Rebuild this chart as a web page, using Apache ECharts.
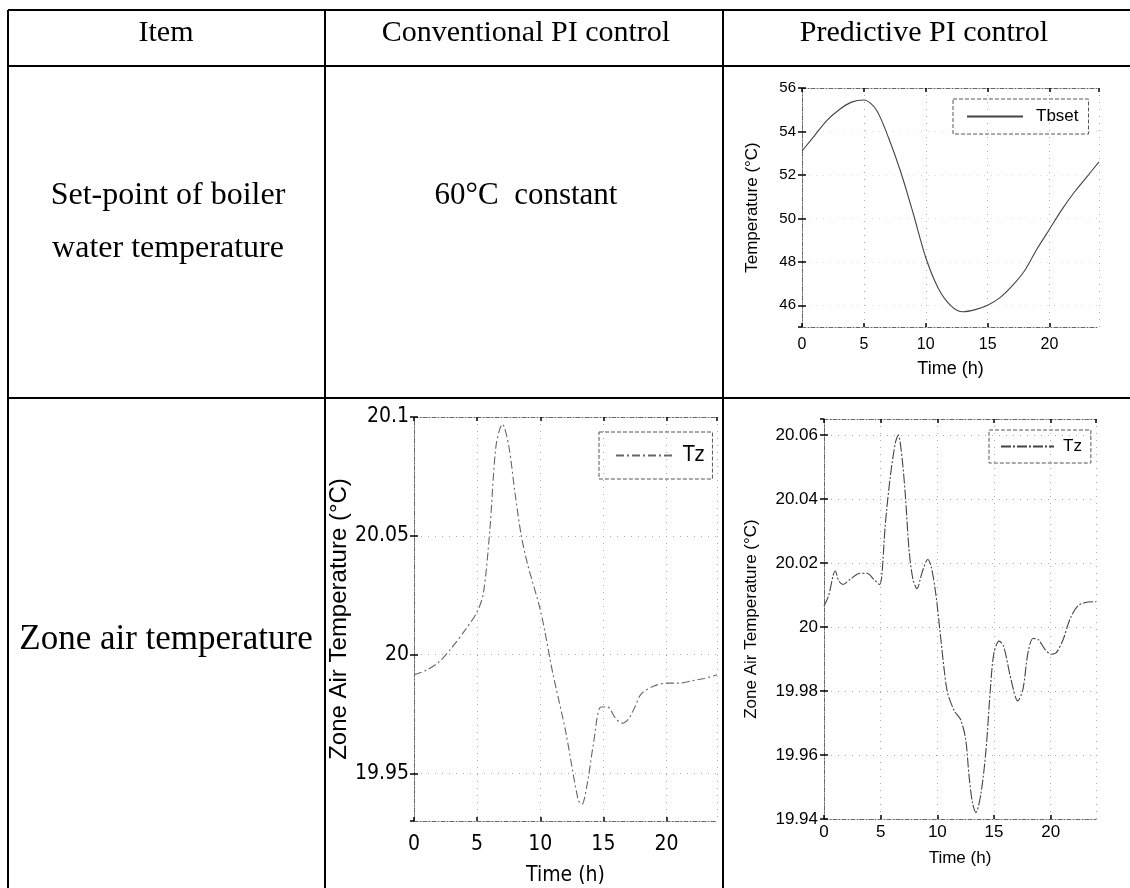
<!DOCTYPE html>
<html>
<head>
<meta charset="utf-8">
<title>Boiler set-point and zone air temperature</title>
<script src="https://cdn.jsdelivr.net/npm/echarts@6/dist/echarts.min.js"></script>
<style>
  html, body { margin: 0; padding: 0; background: #fff; }
  #chart { width: 1130px; height: 888px; }
</style>
</head>
<body>
<div id="chart"></div>
<script>
// ---- Table text ----
const headerLabels = ['Item', 'Conventional PI control', 'Predictive PI control'];
const rowOneLabels = ['Set-point of boiler', 'water temperature'];
const rowOneConventional = '60°C  constant';
const rowTwoLabel = 'Zone air temperature';

// ---- Predictive PI control: boiler water set-point Tbset (°C) over the day ----
const tbsetHours = [0, 1, 2, 3, 4, 5, 6, 7, 8, 9, 10, 11, 12, 13, 14, 15, 16, 17, 18, 19, 20, 21, 22, 23, 24];
const tbsetValues = [53.1, 53.8, 54.5, 55.0, 55.35, 55.45, 55.0, 53.7, 52.1, 50.2, 48.2, 46.8, 46.0, 45.7, 45.8,
  46.0, 46.35, 46.9, 47.6, 48.6, 49.5, 50.4, 51.2, 51.9, 52.6];

// ---- Conventional PI control: zone air temperature Tz (°C) ----
const convHours = [0, 1, 2, 3, 4, 5, 5.5, 6, 6.5, 7, 7.5, 8, 8.5, 9, 10, 10.5, 11, 12, 13, 13.3, 13.7, 14.2, 14.8,
  15.3, 16, 16.5, 17, 17.5, 18, 19, 20, 21, 22, 23, 24];
const convTz = [19.9915, 19.9935, 19.997, 20.003, 20.010, 20.018, 20.026, 20.052, 20.088, 20.097, 20.088, 20.068,
  20.050, 20.038, 20.019, 20.006, 19.992, 19.968, 19.939, 19.937, 19.945, 19.962, 19.978,
  19.978, 19.973, 19.9712, 19.973, 19.978, 19.9835, 19.9868, 19.988, 19.988, 19.989, 19.990, 19.9915];

// ---- Predictive PI control: zone air temperature Tz (°C) ----
const predHours = [0, 0.4, 0.8, 1.0, 1.3, 1.7, 2.3, 3.2, 3.8, 4.4, 4.9, 5.1, 5.4, 5.85, 6.3, 6.55, 6.9, 7.2, 7.5,
  7.85, 8.2, 8.65, 9.15, 9.45, 9.85, 10.25, 10.6, 10.9, 11.5, 12.05, 12.5, 12.8, 13.1, 13.4, 13.85, 14.3, 14.7,
  15.0, 15.45, 15.85, 16.5, 17.1, 17.55, 18.0, 18.45, 18.9, 19.5, 20.05, 20.5, 21.1, 21.7, 22.4, 23.3, 24];
const predTz = [20.0066, 20.0097, 20.0160, 20.0175, 20.0144, 20.0133, 20.0149, 20.0168, 20.0168, 20.0149, 20.0133,
  20.0160, 20.0316, 20.0470, 20.0576, 20.0600, 20.0524, 20.0400, 20.0243, 20.0149, 20.0120, 20.0170, 20.0211,
  20.0190, 20.0107, 19.9982, 19.9868, 19.9795, 19.9738, 19.9711, 19.9649, 19.9534, 19.9451, 19.9420, 19.9480,
  19.9618, 19.9816, 19.9920, 19.9956, 19.9940, 19.9836, 19.9769, 19.9805, 19.9920, 19.9964, 19.9961, 19.9930,
  19.9915, 19.9920, 19.9961, 20.0024, 20.0066, 20.0078, 20.0079];

const pairs = (xs, ys) => xs.map((x, i) => [x, ys[i]]);

const SANS = "'Liberation Sans', Arial, sans-serif";
const NARROW = "'DejaVu Sans Condensed', 'Liberation Sans', sans-serif";
const SERIF = "'Liberation Serif', 'Times New Roman', serif";

// Plot frame pieces shared by every small plot
const frameLine = { show: true, lineStyle: { color: '#666', width: 1, type: [4, 2, 1, 2] } };
const innerTick = { show: true, inside: true, length: 4, lineStyle: { color: '#000', width: 1.5 } };

function timeAxis(gridIndex, font, size, margin, nameGap, nameSize) {
  return {
    type: 'value', gridIndex, min: 0, max: 24, interval: 5,
    axisLine: frameLine, axisTick: innerTick,
    axisLabel: { fontFamily: font, fontSize: size, color: '#000', margin, showMaxLabel: false },
    splitLine: { show: true, lineStyle: { color: '#aaa', width: 1, type: [1, 6] } },
    name: 'Time (h)', nameLocation: 'middle', nameGap,
    nameTextStyle: { fontFamily: font, fontSize: nameSize, color: '#000' }
  };
}
function topAxis(gridIndex) {
  return {
    type: 'value', gridIndex, position: 'top', min: 0, max: 24, interval: 5,
    axisLine: frameLine, axisTick: innerTick, axisLabel: { show: false }, splitLine: { show: false }
  };
}
function tempAxis(gridIndex, cfg) {
  return Object.assign({
    type: 'value', gridIndex,
    axisLine: frameLine, axisTick: innerTick,
    axisLabel: { fontFamily: cfg.font, fontSize: cfg.size, color: '#000', margin: cfg.margin,
      showMinLabel: cfg.showMin !== false, showMaxLabel: cfg.showMax !== false },
    splitLine: { show: true, lineStyle: { color: cfg.gridColor || '#aaa', width: 1, type: [1, 6] } },
    name: cfg.name, nameLocation: 'middle', nameGap: cfg.nameGap,
    nameTextStyle: { fontFamily: cfg.nameFont || SANS, fontSize: cfg.nameSize, color: '#000' }
  }, cfg.scale);
}
function rightAxis(gridIndex, scale) {
  return Object.assign({
    type: 'value', gridIndex, position: 'right',
    axisLine: frameLine, axisTick: innerTick, axisLabel: { show: false }, splitLine: { show: false }
  }, scale);
}

const tbsetScale = { min: 45, max: 56, splitNumber: 5 };
const convScale = { min: 19.93, max: 20.1, splitNumber: 3 };
const predScale = { min: 19.94, max: 20.065, interval: 0.02 };

// Legend boxes: dashed frame, line sample only (no marker)
function legendBox(name, left, top, padding, itemWidth, text, textGap) {
  return {
    data: [name], left, top, orient: 'vertical', selectedMode: false,
    padding, itemWidth, itemHeight: 2,
    itemStyle: { color: 'rgba(0,0,0,0)', borderColor: 'rgba(0,0,0,0)', borderWidth: 0, opacity: 0 },
    borderColor: '#555', borderWidth: 1, borderType: 'dashed', borderRadius: 0,
    formatter: () => text.label,
    textStyle: { fontFamily: text.font, fontSize: text.size, color: '#000', padding: [0, 0, 0, textGap] }
  };
}

// Table rules
const W = 1130, H = 888;
const rule = (x1, y1, x2, y2) => ({
  type: 'line', silent: true, z: 10,
  shape: { x1, y1, x2, y2 }, style: { stroke: '#000', lineWidth: 2 }
});
const cellText = (text, x, y, size) => ({
  type: 'text', silent: true, z: 10, x, y,
  style: { text, font: size + 'px ' + SERIF, fill: '#000', textAlign: 'center', textVerticalAlign: 'middle' }
});

const option = {
  backgroundColor: '#fff',
  animation: false,
  grid: [
    { left: 802, top: 88, width: 297, height: 239, show: false },
    { left: 414, top: 417, width: 303, height: 404, show: false },
    { left: 824, top: 419, width: 272, height: 400, show: false }
  ],
  xAxis: [
    timeAxis(0, SANS, 16, 10, 33, 18),
    timeAxis(1, NARROW, 21, 13, 44, 21),
    timeAxis(2, SANS, 17, 5, 31, 17),
    topAxis(0), topAxis(1), topAxis(2)
  ],
  yAxis: [
    tempAxis(0, { font: SANS, size: 15, margin: 6, showMin: false, name: 'Temperature (°C)', nameGap: 41,
      nameSize: 17, scale: tbsetScale, gridColor: '#ddd' }),
    tempAxis(1, { font: NARROW, size: 21, margin: 5, showMin: false, name: 'Zone Air Temperature (°C)',
      nameGap: 55, nameSize: 24, scale: convScale }),
    tempAxis(2, { font: SANS, size: 17, margin: 6, showMax: false, name: 'Zone Air Temperature (°C)',
      nameGap: 64, nameSize: 17, scale: predScale }),
    rightAxis(0, tbsetScale), rightAxis(1, convScale), rightAxis(2, predScale)
  ],
  legend: [
    legendBox('Tbset', 953, 99, [9, 10, 9, 13], 56, { label: 'Tbset', font: SANS, size: 17 }, 8),
    legendBox('Tz conventional', 599, 432, [13, 8, 13, 16], 57, { label: 'Tz', font: NARROW, size: 21 }, 5),
    legendBox('Tz predictive', 989, 430, [8, 9, 8, 11], 53, { label: 'Tz', font: SANS, size: 17 }, 4)
  ],
  series: [
    {
      name: 'Tbset', type: 'line', xAxisIndex: 0, yAxisIndex: 0, showSymbol: false, symbol: 'none',
      smooth: 0.3, data: pairs(tbsetHours, tbsetValues),
      lineStyle: { color: '#444', width: 1.1 }
    },
    {
      name: 'Tz conventional', type: 'line', xAxisIndex: 1, yAxisIndex: 1, showSymbol: false, symbol: 'none',
      smooth: 0.3, data: pairs(convHours, convTz),
      lineStyle: { color: '#666', width: 1.1, type: [8, 3, 2, 3] }
    },
    {
      name: 'Tz predictive', type: 'line', xAxisIndex: 2, yAxisIndex: 2, showSymbol: false, symbol: 'none',
      smooth: 0.3, data: pairs(predHours, predTz),
      lineStyle: { color: '#444', width: 1.1, type: [10, 2, 2, 2] }
    }
  ],
  graphic: [
    rule(8, 10, W, 10),
    rule(8, 66, W, 66),
    rule(8, 398, W, 398),
    rule(8, 10, 8, H),
    rule(325, 10, 325, H),
    rule(723, 10, 723, H),
    cellText(headerLabels[0], 166, 33, 30),
    cellText(headerLabels[1], 526, 33, 30),
    cellText(headerLabels[2], 924, 33, 30),
    cellText(rowOneLabels[0], 168, 196, 32),
    cellText(rowOneLabels[1], 168, 249, 32),
    cellText(rowOneConventional, 526, 196, 31),
    cellText(rowTwoLabel, 166, 640, 35)
  ]
};

const chart = echarts.init(document.getElementById('chart'), null, { renderer: 'canvas' });
chart.setOption(option);
</script>
</body>
</html>
